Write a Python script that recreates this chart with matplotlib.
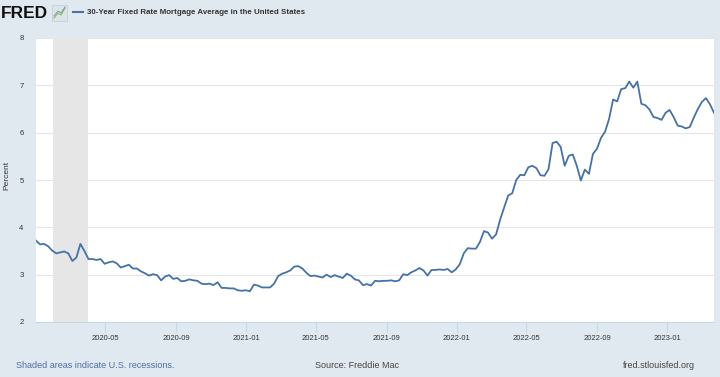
import numpy as np
import pandas as pd
import matplotlib
matplotlib.use('Agg')
import matplotlib.pyplot as plt
from matplotlib.patches import Rectangle

# weekly 30-year fixed rate, percent
rates_2020 = [3.72, 3.64, 3.65, 3.60, 3.51, 3.45, 3.47, 3.49, 3.45, 3.29,
              3.36, 3.65, 3.50, 3.33, 3.33, 3.31, 3.33, 3.23, 3.26, 3.28,
              3.24, 3.15, 3.18, 3.21, 3.13, 3.13, 3.07, 3.03, 2.98, 3.01,
              2.99, 2.88, 2.96, 2.99, 2.91, 2.93, 2.86, 2.87, 2.90, 2.88,
              2.87, 2.81, 2.80, 2.81, 2.78, 2.84, 2.72, 2.72, 2.71, 2.71,
              2.67, 2.66, 2.67]
rates_2021 = [2.65, 2.79, 2.77, 2.73, 2.73, 2.73, 2.81, 2.97, 3.02, 3.05,
              3.09, 3.17, 3.18, 3.13, 3.04, 2.97, 2.98, 2.96, 2.94, 3.00,
              2.95, 2.99, 2.96, 2.93, 3.02, 2.98, 2.90, 2.88, 2.78, 2.80,
              2.77, 2.87, 2.86, 2.87, 2.87, 2.88, 2.86, 2.88, 3.01, 2.99,
              3.05, 3.09, 3.14, 3.09, 2.98, 3.10, 3.10, 3.11, 3.10, 3.12,
              3.05, 3.11]
rates_2022 = [3.22, 3.45, 3.56, 3.55, 3.55, 3.69, 3.92, 3.89, 3.76, 3.85,
              4.16, 4.42, 4.67, 4.72, 5.00, 5.11, 5.10, 5.27, 5.30, 5.25,
              5.10, 5.09, 5.23, 5.78, 5.81, 5.70, 5.30, 5.51, 5.54, 5.30,
              4.99, 5.22, 5.13, 5.55, 5.66, 5.89, 6.02, 6.29, 6.70, 6.66,
              6.92, 6.94, 7.08, 6.95, 7.08, 6.61, 6.58, 6.49, 6.33, 6.31,
              6.27, 6.42]
rates_2023 = [6.48, 6.33, 6.15, 6.13, 6.09, 6.12, 6.32, 6.50, 6.65, 6.73,
              6.60, 6.42]

rates = rates_2020 + rates_2021 + rates_2022 + rates_2023
dates = pd.date_range('2020-01-02', periods=len(rates), freq='7D')

recession_start = pd.Timestamp('2020-02-01')
recession_end = pd.Timestamp('2020-04-01')

tick_dates = pd.to_datetime(['2020-05-01', '2020-09-01', '2021-01-01',
                             '2021-05-01', '2021-09-01', '2022-01-01',
                             '2022-05-01', '2022-09-01', '2023-01-01'])
tick_labels = [d.strftime('%Y-%m') for d in tick_dates]
y_ticks = [2, 3, 4, 5, 6, 7, 8]

bg = '#e1e9f0'
blue = '#4572a7'
plt.rcParams['font.family'] = ['Liberation Sans', 'DejaVu Sans']

fig = plt.figure(figsize=(7.2, 3.77), dpi=100)
fig.patch.set_facecolor(bg)
ax = fig.add_axes([36 / 720, 55 / 377, 678 / 720, 284 / 377])
ax.set_facecolor('white')

# recession shading
ax.axvspan(recession_start, recession_end, color='#e6e6e6', lw=0, zorder=1)

# series
ax.plot(dates, rates, color=blue, lw=1.3, zorder=3)

# axes
ax.set_xlim(dates[0], dates[-1])
ax.set_ylim(2, 8)
ax.set_yticks(y_ticks)
ax.set_xticks(tick_dates)
ax.set_xticklabels(tick_labels)
ax.grid(axis='y', color='#e6e6e6', lw=0.8)
ax.set_axisbelow(True)
for side in ['top', 'right', 'left']:
    ax.spines[side].set_visible(False)
ax.spines['bottom'].set_color('#c8d6e2')
ax.tick_params(axis='x', length=7, color='#c8d6e2', labelsize=5.5,
               labelcolor='#333333', pad=2)
ax.tick_params(axis='y', length=0, labelsize=5.5, labelcolor='#333333',
               pad=9)
fig.text(7 / 720, 1 - 175 / 377, 'Percent', rotation=90, fontsize=6,
         color='#333333', va='center', ha='center')

# header
fig.text(1 / 720, 1 - 13 / 377, 'FRED', fontsize=12.5, fontweight='bold',
         color='#111111', va='center', ha='left')
icon = Rectangle((52 / 720, 1 - 21 / 377), 15 / 720, 16 / 377,
                 transform=fig.transFigure, facecolor='#dde3e8',
                 edgecolor='#c4ccd2', lw=0.5)
fig.patches.append(icon)
fig.lines.append(plt.Line2D([54 / 720, 58 / 720, 61 / 720, 65 / 720],
                            [1 - 18 / 377, 1 - 13 / 377, 1 - 15 / 377,
                             1 - 8 / 377],
                            transform=fig.transFigure, color='#8dbb52',
                            lw=0.8))
fig.lines.append(plt.Line2D([54 / 720, 58 / 720, 61 / 720, 65 / 720],
                            [1 - 16 / 377, 1 - 11 / 377, 1 - 13 / 377,
                             1 - 7 / 377],
                            transform=fig.transFigure, color='#6d8fb8',
                            lw=0.6))
fig.lines.append(plt.Line2D([73 / 720, 83 / 720], [1 - 12 / 377, 1 - 12 / 377],
                            transform=fig.transFigure, color=blue, lw=1.5))
fig.text(87 / 720, 1 - 12 / 377,
         '30-Year Fixed Rate Mortgage Average in the United States',
         fontsize=5.7, fontweight='bold', color='#333333', va='center',
         ha='left')

# footer
fig.text(16 / 720, 1 - 365 / 377, 'Shaded areas indicate U.S. recessions.',
         fontsize=6.5, color='#4a6fa5', va='center', ha='left')
fig.text(357 / 720, 1 - 365 / 377, 'Source: Freddie Mac', fontsize=6.5,
         color='#444444', va='center', ha='center')
fig.text(695 / 720, 1 - 365 / 377, 'fred.stlouisfed.org', fontsize=6.5,
         color='#444444', va='center', ha='right')

plt.savefig('out.png', dpi=100, facecolor=bg)
plt.close()
